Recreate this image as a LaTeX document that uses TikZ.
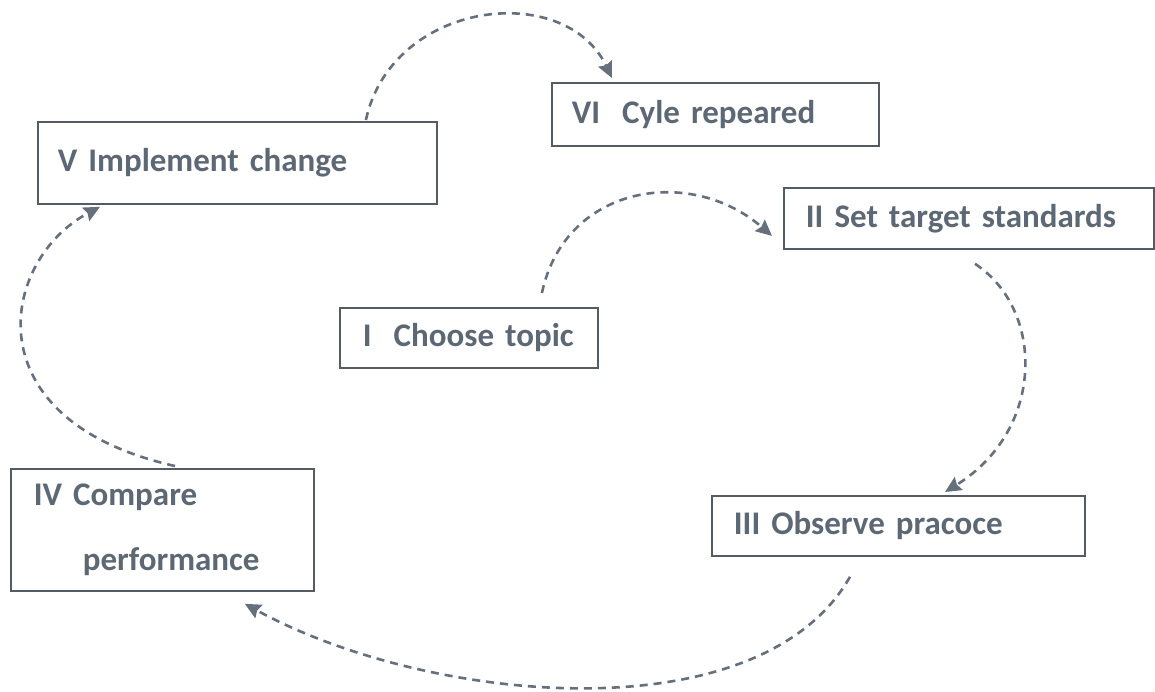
\documentclass[tikz,border=0pt]{standalone}
\usepackage{fontspec}
\setmainfont{Carlito}
\usetikzlibrary{arrows.meta}
\definecolor{txtc}{HTML}{5D6875}
\definecolor{boxc}{HTML}{555B63}
\definecolor{linec}{HTML}{66707C}
\tikzset{
  stagebox/.style={draw=boxc, line width=0.9pt, fill=white, anchor=north west,
    text=txtc, font=\fontsize{16.5}{20}\selectfont\bfseries, align=left,
    inner ysep=0pt},
  conn/.style={draw=linec, line width=1.3pt, dash pattern=on 4pt off 3pt,
    -{Stealth[length=8pt,width=7.5pt,inset=1pt]}}
}
\begin{document}
\begin{tikzpicture}[x=0.5pt,y=-0.5pt]
\useasboundingbox (0,0) rectangle (1155,691);
\node[stagebox, inner xsep=10pt, text width=179.5pt, minimum height=41pt] (V) at (37,121) {V Implement change};
\node[stagebox, inner xsep=10pt, text width=143.5pt, minimum height=31.5pt] (VI) at (551,82) {VI\ \ Cyle repeared};
\node[stagebox, inner xsep=11pt, text width=163pt, minimum height=30.5pt] (II) at (783,187) {II Set target standards};
\node[stagebox, inner xsep=11.5pt, text width=106pt, minimum height=30pt] (I) at (339,307) {I\ \ Choose topic};
\node[stagebox, inner xsep=11pt, text width=164.5pt, minimum height=30pt] (III) at (711,495) {III Observe pracoce};
\node[stagebox, inner xsep=11.5pt, text width=128.5pt, minimum height=61pt] (IV) at (10,468) {IV Compare\\[12.5pt]\hspace*{24.5pt}performance};

\draw[conn] ([xshift=64.25pt,yshift=0.5pt]V.north) .. controls (392,0) and (565,-20) .. ([xshift=30.5pt,yshift=2pt]VI.north west);
\draw[conn] ([xshift=36.5pt,yshift=7pt]I.north) .. controls (565,185) and (690,165) .. ([xshift=-5.5pt,yshift=-8.75pt]II.west);
\draw[conn] ([xshift=96pt,yshift=-7pt]II.south west) .. controls (1045,310) and (1045,430) .. ([xshift=117pt,yshift=1.5pt]III.north west);
\draw[conn] ([xshift=69.5pt,yshift=-10pt]III.south west) .. controls (760,735) and (430,705) .. ([xshift=-35pt,yshift=-6pt]IV.south east);
\draw[conn] ([xshift=82.5pt,yshift=1pt]IV.north west) .. controls (-30,420) and (0,260) .. ([xshift=31.5pt,yshift=-1pt]V.south west);
\end{tikzpicture}
\end{document}
